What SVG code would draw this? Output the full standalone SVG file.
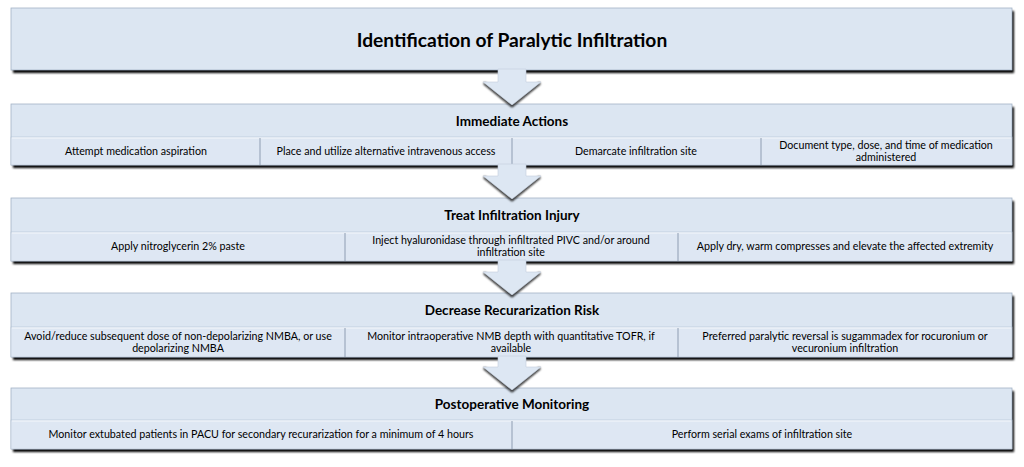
<svg xmlns="http://www.w3.org/2000/svg" width="1024" height="467" viewBox="0 0 1024 467">
<defs>
<filter id="blur" x="-5%" y="-20%" width="110%" height="150%"><feGaussianBlur stdDeviation="0.9"/></filter>
<style>
.shadow{fill:#000;filter:url(#blur)}
.box{fill:#dce6f2;stroke:#a3b2c6;stroke-width:0.8}
.sub{fill:#dee7f3;stroke:#b4c2d4;stroke-width:0.6}
.hl{stroke:#f4f8fc;stroke-width:1}
.div{stroke:#8e9db2;stroke-width:1}
.title{font-family:Lato,"Liberation Sans",sans-serif;font-weight:bold;font-size:19.2px;fill:#000;text-anchor:middle}
.head{font-family:Lato,"Liberation Sans",sans-serif;font-weight:bold;font-size:13.5px;fill:#000;text-anchor:middle}
.txt{font-family:Lato,"Liberation Sans",sans-serif;font-size:10.7px;fill:#000;text-anchor:middle}
.arrow{fill:#dde7f3;stroke:#c2cedd;stroke-width:0.6}
.ash{fill:none;stroke:#111;stroke-width:2.4;filter:url(#blur)}
</style>
</defs>

<g id="node-identification">
<rect class="shadow" x="13" y="11" width="1001" height="62"/>
<rect class="box" x="11" y="8" width="1001" height="62"/>
<text class="title" x="512" y="47">Identification of Paralytic Infiltration</text>
</g>

<g id="node-immediate">
<rect class="shadow" x="13" y="107" width="1001" height="61"/>
<rect class="box" x="11" y="104" width="1001" height="61"/>
<rect class="sub" x="11" y="137" width="1001" height="28"/>
<line class="hl" x1="12" y1="138" x2="1011" y2="138"/>
<line class="div" x1="260" y1="138" x2="260" y2="165"/>
<line class="div" x1="512" y1="138" x2="512" y2="165"/>
<line class="div" x1="761" y1="138" x2="761" y2="165"/>
<text class="head" x="512" y="126">Immediate Actions</text>
<text class="txt" x="136" y="155">Attempt medication aspiration</text>
<text class="txt" x="386" y="155">Place and utilize alternative intravenous access</text>
<text class="txt" x="636" y="155">Demarcate infiltration site</text>
<text class="txt" x="886" y="149">Document type, dose, and time of medication</text>
<text class="txt" x="886" y="161">administered</text>
</g>

<g id="node-treat">
<rect class="shadow" x="13" y="201" width="1001" height="63"/>
<rect class="box" x="11" y="198" width="1001" height="63"/>
<rect class="sub" x="11" y="232" width="1001" height="29"/>
<line class="hl" x1="12" y1="233" x2="1011" y2="233"/>
<line class="div" x1="345" y1="233" x2="345" y2="261"/>
<line class="div" x1="678" y1="233" x2="678" y2="261"/>
<text class="head" x="512" y="220">Treat Infiltration Injury</text>
<text class="txt" x="178" y="250">Apply nitroglycerin 2% paste</text>
<text class="txt" x="511" y="244">Inject hyaluronidase through infiltrated PIVC and/or around</text>
<text class="txt" x="511" y="256">infiltration site</text>
<text class="txt" x="845" y="250">Apply dry, warm compresses and elevate the affected extremity</text>
</g>

<g id="node-decrease">
<rect class="shadow" x="13" y="296" width="1001" height="64"/>
<rect class="box" x="11" y="293" width="1001" height="64"/>
<rect class="sub" x="11" y="327" width="1001" height="30"/>
<line class="hl" x1="12" y1="328" x2="1011" y2="328"/>
<line class="div" x1="345" y1="328" x2="345" y2="357"/>
<line class="div" x1="678" y1="328" x2="678" y2="357"/>
<text class="head" x="512" y="315">Decrease Recurarization Risk</text>
<text class="txt" x="178" y="340">Avoid/reduce subsequent dose of non-depolarizing NMBA, or use</text>
<text class="txt" x="178" y="352">depolarizing NMBA</text>
<text class="txt" x="511" y="340">Monitor intraoperative NMB depth with quantitative TOFR, if</text>
<text class="txt" x="511" y="352">available</text>
<text class="txt" x="845" y="340">Preferred paralytic reversal is sugammadex for rocuronium or</text>
<text class="txt" x="845" y="352">vecuronium infiltration</text>
</g>

<g id="node-postop">
<rect class="shadow" x="13" y="391" width="1001" height="61"/>
<rect class="box" x="11" y="388" width="1001" height="61"/>
<rect class="sub" x="11" y="420" width="1001" height="29"/>
<line class="hl" x1="12" y1="421" x2="1011" y2="421"/>
<line class="div" x1="512" y1="421" x2="512" y2="449"/>
<text class="head" x="512" y="409">Postoperative Monitoring</text>
<text class="txt" x="261" y="438">Monitor extubated patients in PACU for secondary recurarization for a minimum of 4 hours</text>
<text class="txt" x="762" y="438">Perform serial exams of infiltration site</text>
</g>

<g id="connectors">
<path class="ash" d="M484,83 L512,106 L540,83"/>
<polygon class="arrow" points="498,69 526,69 526,82 541,82 512,105 483,82 498,82"/>
<path class="ash" d="M484,177 L512,200 L540,177"/>
<polygon class="arrow" points="498,164 526,164 526,176 541,176 512,199 483,176 498,176"/>
<path class="ash" d="M484,273 L512,296 L540,273"/>
<polygon class="arrow" points="498,260 526,260 526,272 541,272 512,295 483,272 498,272"/>
<path class="ash" d="M484,368 L512,391 L540,368"/>
<polygon class="arrow" points="498,356 526,356 526,367 541,367 512,390 483,367 498,367"/>
</g>
</svg>
